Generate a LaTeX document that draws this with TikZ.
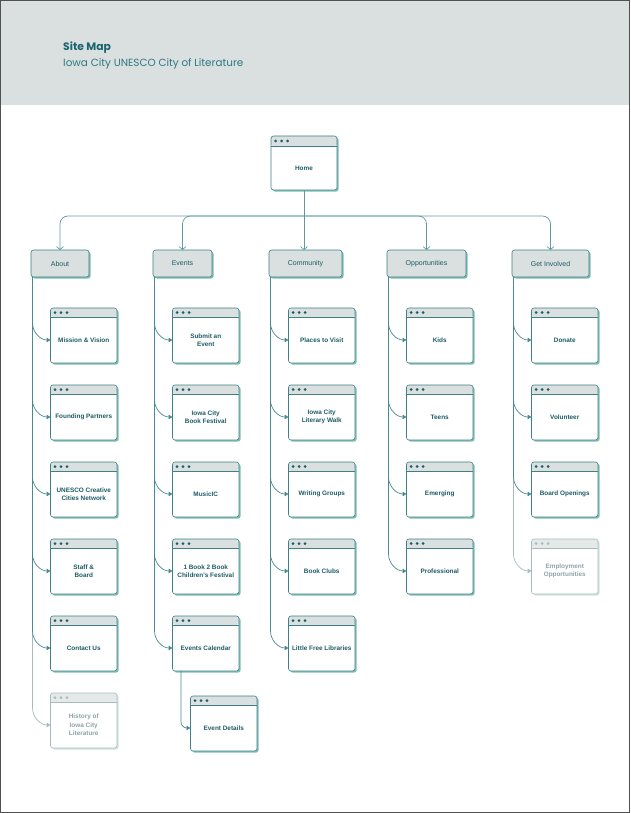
\documentclass[tikz,border=0pt]{standalone}
\usepackage{fontspec}
\usetikzlibrary{arrows.meta,shadows,positioning}

\newfontfamily\headfont{Poppins}
\newfontfamily\lblfont{Liberation Sans}

\definecolor{bandc}{HTML}{D9E0DF}
\definecolor{boxc}{HTML}{3F7F86}
\definecolor{linec}{HTML}{4A8A90}
\definecolor{feedc}{HTML}{5F9BA0}
\definecolor{txtc}{HTML}{1D5C65}
\definecolor{titlec}{HTML}{1B6570}
\definecolor{subc}{HTML}{2D7883}
\definecolor{shadc}{HTML}{7DBFB2}
\definecolor{oldc}{HTML}{A7BBBD}
\definecolor{oldtxtc}{HTML}{8DA3A6}
\definecolor{oldbarc}{HTML}{E5EAE9}
\definecolor{oldshadc}{HTML}{D0E4E0}
\definecolor{edgec}{HTML}{505050}

% window bar: fill, rule, dots, bar height
\newcommand\winbar[4]{%
  \fill[#1] (path picture bounding box.north west) rectangle ([yshift=-#4]path picture bounding box.north east);
  \draw[#2, line width=0.5pt] ([yshift=-#4]path picture bounding box.north west) -- ([yshift=-#4]path picture bounding box.north east);
  \foreach \dx in {4.5,10.5,16.5}
    \fill[#3] ([xshift=\dx pt, yshift=-#4/2]path picture bounding box.north west) circle (1.5pt);}

\tikzset{
  winbase/.style={line width=0.6pt, fill=white, rounded corners=2.5pt, inner sep=0pt, outer sep=0pt,
    minimum width=66.5pt, minimum height=55pt, anchor=north west},
  win/.style={winbase, draw=boxc,
    drop shadow={shadow xshift=1.6pt, shadow yshift=-1.6pt, fill=shadc, opacity=1},
    path picture={\winbar{bandc}{boxc}{txtc}{9pt}}},
  oldwin/.style={winbase, draw=oldc,
    drop shadow={shadow xshift=1.6pt, shadow yshift=-1.6pt, fill=oldshadc, opacity=1},
    path picture={\winbar{oldbarc}{oldc}{oldc}{9pt}}},
  cat/.style={draw=boxc, line width=0.6pt, fill=bandc, rounded corners=2.5pt, inner sep=0pt, outer sep=0pt,
    minimum height=27pt, anchor=north west, text=txtc, font=\lblfont\fontsize{7}{8.5}\selectfont,
    drop shadow={shadow xshift=1.6pt, shadow yshift=-1.6pt, fill=shadc, opacity=1}},
  wintxt/.style={inner sep=0pt, align=center, text=txtc, font=\lblfont\bfseries\fontsize{6.4}{8.5}\selectfont},
  oldtxt/.style={wintxt, text=oldtxtc},
  feed/.style={draw=feedc, line width=0.7pt, rounded corners=8pt, -{Straight Barb[length=3pt,width=7pt]}},
  trunk/.style={draw=linec, line width=0.7pt},
  oldtrunk/.style={draw=oldc, line width=0.7pt},
  branch/.style={draw=linec, line width=0.7pt, -{Triangle[length=4pt,width=4.5pt]}},
  oldbranch/.style={draw=oldc, line width=0.7pt, -{Triangle[length=4pt,width=4.5pt]}},
}

\begin{document}
\begin{tikzpicture}[x=1pt, y=-1pt]
  \useasboundingbox (0,0) rectangle (630,813);
  \fill[bandc] (0,0) rectangle (630,105);

  \node[anchor=base west, inner sep=0pt, text=titlec, font=\headfont\bfseries\fontsize{10.8}{13}\selectfont] (title) at (63,51) {Site Map};
  \node[anchor=base west, inner sep=0pt, text=subc, font=\headfont\fontsize{10.4}{13}\selectfont] (subtitle) at (63,67) {Iowa City UNESCO City of Literature};

  % home and sections
  \node[win, minimum width=66pt, minimum height=54pt, path picture={\winbar{bandc}{boxc}{txtc}{10pt}}] (home) at (271,136) {};
  \node[wintxt] (homet) at ([yshift=-5pt]home.center) {Home};

  \node[cat, minimum width=58pt] (about) at (31,250) {About};
  \node[cat, minimum width=59pt] (events) at (153,250) {Events};
  \node[cat, minimum width=73pt] (community) at (269,250) {Community};
  \node[cat, minimum width=79pt] (opps) at (387,250) {Opportunities};
  \node[cat, minimum width=77pt] (involved) at (512,250) {Get Involved};

  \coordinate (bus) at (304,216);

  % about
  \node[win] (mission) at (50.5,308) {};
  \node[win, below=22pt of mission] (founding) {};
  \node[win, below=22pt of founding] (unesco) {};
  \node[win, below=22pt of unesco] (staff) {};
  \node[win, below=22pt of staff] (contact) {};
  \node[oldwin, below=22pt of contact] (history) {};
  \node[wintxt] (missiont) at ([yshift=-4.5pt]mission.center) {Mission \& Vision};
  \node[wintxt] (foundingt) at ([yshift=-4.5pt]founding.center) {Founding Partners};
  \node[wintxt] (unescot) at ([yshift=-4.5pt]unesco.center) {UNESCO Creative\\Cities Network};
  \node[wintxt] (stafft) at ([yshift=-4.5pt]staff.center) {Staff \&\\Board};
  \node[wintxt] (contactt) at ([yshift=-4.5pt]contact.center) {Contact Us};
  \node[oldtxt] (historyt) at ([yshift=-4.5pt]history.center) {History of\\Iowa City\\Literature};

  % events
  \node[win] (submit) at (172.5,308) {};
  \node[win, below=22pt of submit] (festival) {};
  \node[win, below=22pt of festival] (musicic) {};
  \node[win, below=22pt of musicic] (bookbook) {};
  \node[win, below=22pt of bookbook] (calendar) {};
  \node[win] (details) at (190.5,696) {};
  \node[wintxt] (submitt) at ([yshift=-4.5pt]submit.center) {Submit an\\Event};
  \node[wintxt] (festivalt) at ([yshift=-4.5pt]festival.center) {Iowa City\\Book Festival};
  \node[wintxt] (musicict) at ([yshift=-4.5pt]musicic.center) {MusicIC};
  \node[wintxt] (bookbookt) at ([yshift=-4.5pt]bookbook.center) {1 Book 2 Book\\Children's Festival};
  \node[wintxt] (calendart) at ([yshift=-4.5pt]calendar.center) {Events Calendar};
  \node[wintxt] (detailst) at ([yshift=-4.5pt]details.center) {Event Details};

  % community
  \node[win] (places) at (288.5,308) {};
  \node[win, below=22pt of places] (walk) {};
  \node[win, below=22pt of walk] (writing) {};
  \node[win, below=22pt of writing] (clubs) {};
  \node[win, below=22pt of clubs] (libraries) {};
  \node[wintxt] (placest) at ([yshift=-4.5pt]places.center) {Places to Visit};
  \node[wintxt] (walkt) at ([yshift=-4.5pt]walk.center) {Iowa City\\Literary Walk};
  \node[wintxt] (writingt) at ([yshift=-4.5pt]writing.center) {Writing Groups};
  \node[wintxt] (clubst) at ([yshift=-4.5pt]clubs.center) {Book Clubs};
  \node[wintxt] (librariest) at ([yshift=-4.5pt]libraries.center) {Little Free Libraries};

  % opportunities
  \node[win] (kids) at (406.5,308) {};
  \node[win, below=22pt of kids] (teens) {};
  \node[win, below=22pt of teens] (emerging) {};
  \node[win, below=22pt of emerging] (professional) {};
  \node[wintxt] (kidst) at ([yshift=-4.5pt]kids.center) {Kids};
  \node[wintxt] (teenst) at ([yshift=-4.5pt]teens.center) {Teens};
  \node[wintxt] (emergingt) at ([yshift=-4.5pt]emerging.center) {Emerging};
  \node[wintxt] (professionalt) at ([yshift=-4.5pt]professional.center) {Professional};

  % get involved
  \node[win] (donate) at (531.5,308) {};
  \node[win, below=22pt of donate] (volunteer) {};
  \node[win, below=22pt of volunteer] (board) {};
  \node[oldwin, below=22pt of board] (employment) {};
  \node[wintxt] (donatet) at ([yshift=-4.5pt]donate.center) {Donate};
  \node[wintxt] (volunteert) at ([yshift=-4.5pt]volunteer.center) {Volunteer};
  \node[wintxt] (boardt) at ([yshift=-4.5pt]board.center) {Board Openings};
  \node[oldtxt] (employmentt) at ([yshift=-4.5pt]employment.center) {Employment\\Opportunities};

  % home to sections
  \draw[feed] (home.south) -- (home.south |- community.north);
  \draw[feed] (bus) -| (about.north);
  \draw[feed] (bus) -| (events.north);
  \draw[feed] (bus) -| (opps.north);
  \draw[feed] (bus) -| (involved.north);

  % section trunks
  \draw[trunk] ([xshift=1.5pt]about.south west) -- ([xshift=-18pt,yshift=12.5pt]contact.west);
  \draw[oldtrunk] ([xshift=-18pt,yshift=12.5pt]contact.west) -- ([xshift=-18pt,yshift=12.5pt]history.west);
  \draw[trunk] ([xshift=1.5pt]events.south west) -- ([xshift=-18pt,yshift=12.5pt]calendar.west);
  \draw[trunk] ([xshift=1.5pt]community.south west) -- ([xshift=-18pt,yshift=12.5pt]libraries.west);
  \draw[trunk] ([xshift=1.5pt]opps.south west) -- ([xshift=-18pt,yshift=12.5pt]professional.west);
  \draw[trunk] ([xshift=1.5pt]involved.south west) -- ([xshift=-18pt,yshift=12.5pt]board.west);
  \draw[oldtrunk] ([xshift=-18pt,yshift=12.5pt]board.west) -- ([xshift=-18pt,yshift=12.5pt]employment.west);

  % branches
  \draw[branch] ([xshift=-18pt,yshift=12.5pt]mission.west) to[out=-90,in=180] ([yshift=-4.5pt]mission.west);
  \draw[branch] ([xshift=-18pt,yshift=12.5pt]founding.west) to[out=-90,in=180] ([yshift=-4.5pt]founding.west);
  \draw[branch] ([xshift=-18pt,yshift=12.5pt]unesco.west) to[out=-90,in=180] ([yshift=-4.5pt]unesco.west);
  \draw[branch] ([xshift=-18pt,yshift=12.5pt]staff.west) to[out=-90,in=180] ([yshift=-4.5pt]staff.west);
  \draw[branch] ([xshift=-18pt,yshift=12.5pt]contact.west) to[out=-90,in=180] ([yshift=-4.5pt]contact.west);
  \draw[oldbranch] ([xshift=-18pt,yshift=12.5pt]history.west) to[out=-90,in=180] ([yshift=-4.5pt]history.west);

  \draw[branch] ([xshift=-18pt,yshift=12.5pt]submit.west) to[out=-90,in=180] ([yshift=-4.5pt]submit.west);
  \draw[branch] ([xshift=-18pt,yshift=12.5pt]festival.west) to[out=-90,in=180] ([yshift=-4.5pt]festival.west);
  \draw[branch] ([xshift=-18pt,yshift=12.5pt]musicic.west) to[out=-90,in=180] ([yshift=-4.5pt]musicic.west);
  \draw[branch] ([xshift=-18pt,yshift=12.5pt]bookbook.west) to[out=-90,in=180] ([yshift=-4.5pt]bookbook.west);
  \draw[branch] ([xshift=-18pt,yshift=12.5pt]calendar.west) to[out=-90,in=180] ([yshift=-4.5pt]calendar.west);
  \draw[branch, rounded corners=6pt] ([xshift=8.5pt]calendar.south west) |- ([yshift=-4.5pt]details.west);

  \draw[branch] ([xshift=-18pt,yshift=12.5pt]places.west) to[out=-90,in=180] ([yshift=-4.5pt]places.west);
  \draw[branch] ([xshift=-18pt,yshift=12.5pt]walk.west) to[out=-90,in=180] ([yshift=-4.5pt]walk.west);
  \draw[branch] ([xshift=-18pt,yshift=12.5pt]writing.west) to[out=-90,in=180] ([yshift=-4.5pt]writing.west);
  \draw[branch] ([xshift=-18pt,yshift=12.5pt]clubs.west) to[out=-90,in=180] ([yshift=-4.5pt]clubs.west);
  \draw[branch] ([xshift=-18pt,yshift=12.5pt]libraries.west) to[out=-90,in=180] ([yshift=-4.5pt]libraries.west);

  \draw[branch] ([xshift=-18pt,yshift=12.5pt]kids.west) to[out=-90,in=180] ([yshift=-4.5pt]kids.west);
  \draw[branch] ([xshift=-18pt,yshift=12.5pt]teens.west) to[out=-90,in=180] ([yshift=-4.5pt]teens.west);
  \draw[branch] ([xshift=-18pt,yshift=12.5pt]emerging.west) to[out=-90,in=180] ([yshift=-4.5pt]emerging.west);
  \draw[branch] ([xshift=-18pt,yshift=12.5pt]professional.west) to[out=-90,in=180] ([yshift=-4.5pt]professional.west);

  \draw[branch] ([xshift=-18pt,yshift=12.5pt]donate.west) to[out=-90,in=180] ([yshift=-4.5pt]donate.west);
  \draw[branch] ([xshift=-18pt,yshift=12.5pt]volunteer.west) to[out=-90,in=180] ([yshift=-4.5pt]volunteer.west);
  \draw[branch] ([xshift=-18pt,yshift=12.5pt]board.west) to[out=-90,in=180] ([yshift=-4.5pt]board.west);
  \draw[oldbranch] ([xshift=-18pt,yshift=12.5pt]employment.west) to[out=-90,in=180] ([yshift=-4.5pt]employment.west);

  \draw[edgec, line width=1.2pt] (0.6,0.6) rectangle (629.4,812.4);
\end{tikzpicture}
\end{document}
